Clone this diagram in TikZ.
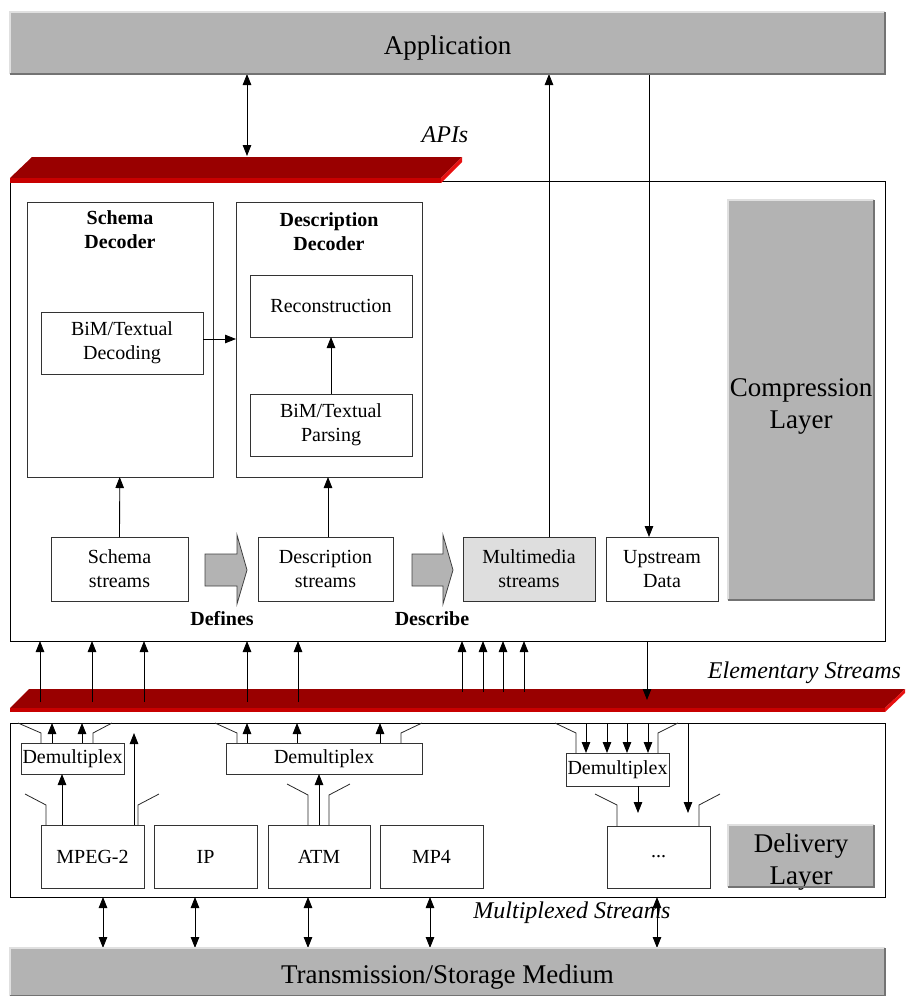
\documentclass[tikz,border=0pt]{standalone}
\usepackage{fontspec}
\setmainfont{Liberation Serif}
\usetikzlibrary{arrows.meta, positioning, calc}

\definecolor{bartop}{HTML}{990000}
\definecolor{barfront}{HTML}{C80000}
\definecolor{barside}{HTML}{E81010}
\definecolor{layergray}{HTML}{B3B3B3}
\definecolor{mmgray}{HTML}{DEDEDE}

\begin{document}
\begin{tikzpicture}[x=1pt, y=-1pt, >={Triangle[length=11pt,width=8.5pt]},
    every node/.style={font=\fontsize{20}{24}\selectfont, inner sep=0pt, outer sep=0pt},
    box/.style={draw=black!80, line width=0.9pt, fill=white, align=center},
    layer/.style={fill=layergray},
    layertext/.style={font=\fontsize{27}{32}\selectfont, align=center},
    title/.style={font=\bfseries\fontsize{20}{24}\selectfont, align=center, anchor=north},
    tag/.style={font=\itshape\fontsize{24}{28}\selectfont},
    fat/.style={fill=layergray, draw=black!75, line width=0.8pt},
    conn/.style={line width=0.8pt},
    funnel/.style={line width=0.8pt, black!85}]
  \useasboundingbox (0,0) rectangle (905,996);

  % layers
  \node[layer, minimum width=875, minimum height=62] (app) at (447.5,43) {};
  \node[layertext] at ([yshift=-5]app.center) {Application};
  \node[layer, minimum width=875, minimum height=48] (medium) at (447.5,972) {};
  \node[layertext] at ([yshift=-5]medium.center) {Transmission/Storage Medium};

  % compression layer
  \node[draw, line width=0.9pt, minimum width=875, minimum height=460] (comp) at (447.5,411) {};
  \node[layer, minimum width=146, minimum height=400] (complayer) at (801,400) {};
  \node[layertext] at ([yshift=-6]complayer.center) {Compression\\Layer};

  % APIs bar
  \fill[bartop] (32,157) -- (462,157) -- (441,178) -- (10,178) -- cycle;
  \fill[barfront] (10,178) rectangle (441,183);
  \fill[barside] (441,178) -- (462,157) -- (462,162) -- (441,183) -- cycle;
  \node[tag] (apis) at (445,135) {APIs};

  \node[box, minimum width=186, minimum height=275] (schdec) at (120,339.5) {};
  \node[title] at ([yshift=-9]schdec.north) {Schema\\Decoder};
  \node[box, minimum width=162, minimum height=62] (bimdec) at (122,343) {BiM/Textual\\Decoding};

  \node[box, minimum width=186, minimum height=275] (descdec) at (329,339.5) {};
  \node[title] at ([yshift=-11]descdec.north) {Description\\Decoder};
  \node[box, minimum width=162, minimum height=62] (recon) at (331,306) {Reconstruction};
  \node[box, minimum width=162, minimum height=62] (parse) at (331,425) {BiM/Textual\\Parsing};

  \node[box, minimum width=137, minimum height=64] (schstr) at (119.5,569) {Schema\\streams};
  \node[box, minimum width=135, minimum height=64] (descstr) at (325.5,569) {Description\\streams};
  \node[box, fill=mmgray, minimum width=132, minimum height=64] (mmstr) at (529,569) {Multimedia\\streams};
  \node[box, minimum width=112, minimum height=64] (upstr) at (662,569) {Upstream\\Data};

  % fat arrows
  \draw[fat] (205,554) -- (237,554) -- (237,535) -- (247,570) -- (237,604) -- (237,586) -- (205,586) -- cycle;
  \draw[fat] (412,554) -- (443,554) -- (443,535) -- (453,570) -- (443,604) -- (443,586) -- (412,586) -- cycle;
  \node[font=\bfseries\fontsize{20}{24}\selectfont] (defines) at (222,619) {Defines};
  \node[font=\bfseries\fontsize{20}{24}\selectfont] (describe) at (432,619) {Describe};

  \draw[conn, ->] (bimdec.east |- 0,339) -- (descdec.west |- 0,339);
  \draw[conn, ->] (parse) -- (recon);
  \draw[conn, ->] (schstr) -- (schdec);
  \draw[conn, ->] (descstr.north -| 328,0) -- (descdec.south -| 328,0);
  \draw[conn, ->] (mmstr.north -| 549,0) -- (app.south -| 549,0);
  \draw[conn, ->] (app.south -| 649,0) -- (upstr.north -| 649,0);
  \draw[conn, <->] (app.south -| 247,0) -- (247,156);

  % elementary streams bar
  \fill[bartop] (29,689) -- (905,689) -- (885,708) -- (10,708) -- cycle;
  \fill[barfront] (10,708) rectangle (885,712);
  \fill[barside] (885,708) -- (905,689) -- (905,693) -- (885,712) -- cycle;
  \node[tag, anchor=east] (elem) at (901,673) {Elementary Streams};
  \foreach \x in {40,92,144,247,298}
    \draw[conn, ->] (\x,702) -- (comp.south -| \x,0);
  \foreach \x in {462,483,503,524}
    \draw[conn, ->] (\x,692) -- (comp.south -| \x,0);
  \draw[conn, ->] (comp.south -| 647,0) -- (647,700);

  % delivery layer
  \node[draw, line width=0.9pt, minimum width=875, minimum height=174] (deliv) at (447.5,810) {};
  \node[layer, minimum width=146, minimum height=62] (delivlayer) at (801,856) {};
  \node[layertext] at ([yshift=-6]delivlayer.center) {Delivery\\Layer};

  \node[box, minimum width=103, minimum height=31] (demuxa) at (72.5,758.5) {Demultiplex};
  \node[box, minimum width=196, minimum height=31] (demuxb) at (324,758.5) {Demultiplex};
  \node[box, minimum width=103, minimum height=33] (demuxc) at (617.5,769.5) {Demultiplex};

  \node[box, minimum width=103, minimum height=63] (mpeg) at (92.5,856.5) {MPEG-2};
  \node[box, minimum width=103, minimum height=63] (ip) at (205.5,856.5) {IP};
  \node[box, minimum width=102, minimum height=63] (atm) at (319,856.5) {ATM};
  \node[box, minimum width=103, minimum height=63] (mp4) at (431.5,856.5) {MP4};
  \node[box, minimum width=103, minimum height=62] (more) at (658.5,857) {...};

  % funnels
  \foreach \xa/\xb/\xc/\xd/\ya/\yb/\yc in {18/41/93/112/723/733/743, 215/237/401/422/723/733/743,
      555/576/658/678/723/733/753, 25/46/138/159/794/805/825, 287/308/329/350/784/795/825,
      595/617/699/720/794/805/826}
  {
    \draw[funnel] (\xa,\ya) -- (\xb,\yb) -- (\xb,\yc);
    \draw[funnel] (\xc,\yc) -- (\xc,\yb) -- (\xd,\ya);
  }

  \foreach \x in {52,82}
    \draw[conn, ->] (demuxa.north -| \x,0) -- (deliv.north -| \x,0);
  \foreach \x in {247,297,380}
    \draw[conn, ->] (demuxb.north -| \x,0) -- (deliv.north -| \x,0);
  \foreach \x in {586,607,627,648}
    \draw[conn, ->] (deliv.north -| \x,0) -- (demuxc.north -| \x,0);
  \draw[conn, ->] (mpeg.north -| 62,0) -- (demuxa.south -| 62,0);
  \draw[conn, ->] (mpeg.north -| 134,0) -- (134,733);
  \draw[conn, ->] (atm.north -| 319,0) -- (demuxb.south -| 319,0);
  \draw[conn, ->] (demuxc.south -| 638,0) -- (638,813);
  \draw[conn, ->] (deliv.north -| 688,0) -- (688,813);

  % multiplexed streams
  \foreach \x in {103,195,308,430,657}
    \draw[conn, <->] (deliv.south -| \x,0) -- (medium.north -| \x,0);
  \node[tag] (mux) at (572,913) {Multiplexed Streams};

  % raised edges
  \foreach \n in {app, medium, complayer, delivlayer} {
    \draw[black!12, line width=1.5pt] (\n.south west) -- (\n.north west) -- (\n.north east);
    \draw[black!55, line width=1.5pt] (\n.north east) -- (\n.south east) -- (\n.south west);
  }
\end{tikzpicture}
\end{document}
